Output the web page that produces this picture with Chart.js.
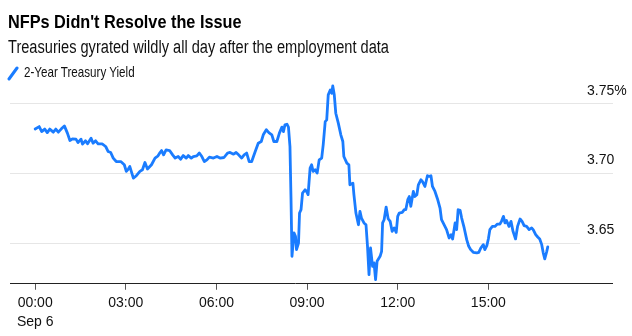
<!DOCTYPE html>
<html>
<head>
<meta charset="utf-8">
<script src="https://cdn.jsdelivr.net/npm/chart.js@4/dist/chart.umd.min.js"></script>
<style>
  html, body { margin: 0; padding: 0; background: #fff; }
  body { width: 632px; height: 336px; position: relative; overflow: hidden; font-family: "Liberation Sans", Arial, sans-serif; }
  #wrap { position: absolute; left: 0; top: 0; width: 632px; height: 336px; }
  .txt { position: absolute; white-space: nowrap; line-height: 1; transform-origin: 0 0; color: #000; }
  #title { left: 8px; top: 12.6px; font-size: 18.6px; font-weight: bold; transform: scaleX(0.875); }
  #subtitle { left: 8px; top: 39.4px; font-size: 17.6px; transform: scaleX(0.83); color: #111; }
  #legend { left: 24px; top: 64.8px; font-size: 14.8px; transform: scaleX(0.785); color: #111; }
  #icon { position: absolute; left: 7px; top: 65px; }
</style>
</head>
<body>
<div id="wrap"><canvas id="c" width="632" height="336"></canvas></div>
<div class="txt" id="title">NFPs Didn't Resolve the Issue</div>
<div class="txt" id="subtitle">Treasuries gyrated wildly all day after the employment data</div>
<svg id="icon" width="14" height="16"><line x1="2" y1="14" x2="10" y2="3" stroke="#1a7cff" stroke-width="3" stroke-linecap="round"/></svg>
<div class="txt" id="legend">2-Year Treasury Yield</div>
<script>
// Minutes after 00:00 (Sep 6)
const times = [0,8,13,19,24,29,36,41,46,52,58,64,69,74,81,85,91,94,100,104,111,115,120,125,133,140,145,150,155,161,170,177,181,185,188,195,201,208,213,218,223,231,238,244,
248,251,255,260,267,273,278,284,289,294,300,304,310,314,321,326,331,336,341,346,354,361,367,375,382,387,394,399,404,410,415,420,425,430,437,443,449,453,459,464,
470,474,480,485,490,493,496,500,503,506,508,510,514,517,519,523,525,528,531,536,539,542,546,549,552,556,560,564,569,572,576,579,582,586,589,591,594,597,602,607,
611,613,619,623,625,631,633,637,642,645,648,653,657,660,663,666,670,673,676,679,685,688,690,693,697,701,705,709,713,717,720,723,729,733,736,740,743,746,751,754,
758,761,766,769,774,779,783,786,789,794,799,804,807,812,817,822,826,829,834,837,840,844,847,852,857,861,865,870,877,881,885,890,893,897,900,903,908,913,918,923,
926,930,933,936,941,945,949,954,958,963,967,971,976,981,986,989,994,998,1002,1006,1009,1012,1016,1018];

// 2-Year Treasury yield, %
const yields = [3.732,3.7337,3.7301,3.7319,3.7294,3.7319,3.7297,3.7319,3.7297,3.7321,3.7342,3.729,3.7237,3.7249,3.7247,3.7223,3.7247,3.7211,3.7235,3.7213,
3.7254,3.7218,3.7235,3.7213,3.7213,3.7194,3.7158,3.7151,3.7111,3.7086,3.7086,3.7063,3.7015,3.7032,3.705,3.6967,3.6984,3.7015,3.7027,3.7079,3.7032,3.7063,3.7111,3.7127,
3.7151,3.7165,3.7134,3.717,3.7165,3.7134,3.7111,3.7122,3.7103,3.7129,3.7111,3.7129,3.7111,3.7122,3.7127,3.7147,3.7122,3.7086,3.7098,3.7118,
3.7111,3.7122,3.7111,3.7115,3.7147,3.7151,3.7139,3.7151,3.7134,3.7111,3.7134,3.7147,3.7086,3.7086,3.7158,3.7218,3.723,3.7278,3.7314,3.7294,
3.7278,3.723,3.723,3.729,3.7333,3.7301,3.7349,3.7354,3.7333,3.7194,3.6835,3.6405,3.6573,3.6549,3.6453,3.6501,3.6716,3.674,3.686,3.6883,
3.6871,3.6848,3.7039,3.7063,3.7015,3.7027,3.7003,3.7098,3.7111,3.7206,3.7373,3.7385,3.7565,3.76,3.7577,3.7629,3.7565,3.7433,3.7362,3.7278,
3.723,3.7122,3.7075,3.7063,3.6919,3.6931,3.6848,3.6716,3.6632,3.6728,3.668,3.6645,3.6632,3.6477,3.6274,3.6465,3.6333,3.6358,3.6238,3.6369,
3.6405,3.6441,3.6645,3.6668,3.6759,3.6675,3.6656,3.6584,3.6609,3.6577,3.6692,3.6716,3.6721,3.674,3.674,3.6812,3.6835,3.6764,3.6871,3.6835,
3.6848,3.6919,3.6955,3.6943,3.6907,3.6984,3.6979,3.6984,3.6907,3.6871,3.6817,3.6752,3.6668,3.6632,3.6597,3.6537,3.6561,3.653,3.6645,3.6597,
3.674,3.6735,3.668,3.6609,3.6525,3.6477,3.6453,3.6434,3.643,3.6434,3.6465,3.6489,3.6453,3.6482,3.653,3.6597,3.662,3.662,3.6637,3.6637,
3.6656,3.6692,3.6645,3.6663,3.662,3.6656,3.6584,3.653,3.662,3.6673,3.6656,3.6625,3.662,3.6597,3.6609,3.6597,3.6561,3.6544,3.653,3.6489,
3.643,3.6387,3.6441,3.6473];

const xTickValues = [0, 180, 360, 540, 720, 900];
const xTickLabels = ['00:00', '03:00', '06:00', '09:00', '12:00', '15:00'];
const dateLabel = 'Sep 6';
const yTickValues = [3.65, 3.70, 3.75];
const yTickLabels = ['3.65', '3.70', '3.75%'];

const Y_MIN = 3.6208, Y_MAX = 3.7801;
const X_MIN = -50, X_MAX = 1082;

const n = Math.min(times.length, yields.length);
const pts = [];
for (let i = 0; i < n; i++) pts.push({ x: times[i], y: yields[i] });

const FONT = '"Liberation Sans", Arial, sans-serif';

new Chart(document.getElementById('c'), {
  type: 'line',
  data: {
    datasets: [{
      label: '2-Year Treasury Yield',
      data: pts,
      borderColor: '#1a7cff',
      borderWidth: 2.8,
      pointRadius: 0,
      tension: 0,
      borderJoinStyle: 'round',
      borderCapStyle: 'round',
      fill: false
    }]
  },
  options: {
    responsive: false,
    animation: false,
    events: [],
    layout: { padding: { top: 62, left: 10, right: 2, bottom: 0 } },
    plugins: { legend: { display: false }, tooltip: { enabled: false }, title: { display: false } },
    scales: {
      x: {
        type: 'linear',
        min: X_MIN, max: X_MAX,
        afterBuildTicks: (s) => { s.ticks = xTickValues.map(v => ({ value: v })); },
        ticks: {
          autoSkip: false, maxRotation: 0, padding: 4.5, color: '#111',
          font: { family: FONT, size: 14, lineHeight: 1.33 },
          callback: (v) => {
            const i = xTickValues.indexOf(v);
            const lab = i >= 0 ? xTickLabels[i] : '';
            return v === 0 ? [lab, dateLabel] : lab;
          }
        },
        grid: { drawOnChartArea: false, drawTicks: true, tickLength: 6, color: '#555', lineWidth: 1 },
        border: { display: true, color: '#222', width: 1 }
      },
      y: {
        position: 'right',
        min: Y_MIN, max: Y_MAX,
        afterBuildTicks: (s) => { s.ticks = [{ value: Y_MIN }].concat(yTickValues.map(v => ({ value: v }))); },
        afterFit: (s) => { s.width = 50; },
        ticks: {
          padding: -26, labelOffset: -13, color: '#111',
          font: { family: FONT, size: 14 },
          callback: (v) => {
            const i = yTickValues.findIndex(t => Math.abs(t - v) < 1e-9);
            return i >= 0 ? yTickLabels[i] : '';
          }
        },
        grid: {
          drawOnChartArea: true, drawTicks: true, tickLength: 33, lineWidth: 1,
          color: (ctx) => (ctx.tick && ctx.tick.value === Y_MIN) ? 'rgba(0,0,0,0)' : '#e6e6e6',
          tickColor: (ctx) => {
            if (!ctx.tick) return 'rgba(0,0,0,0)';
            if (ctx.tick.value === Y_MIN) return '#222';
            if (Math.abs(ctx.tick.value - 3.65) < 1e-9) return 'rgba(0,0,0,0)';
            return '#e6e6e6';
          }
        },
        border: { display: false }
      }
    }
  }
});
</script>
</body>
</html>
